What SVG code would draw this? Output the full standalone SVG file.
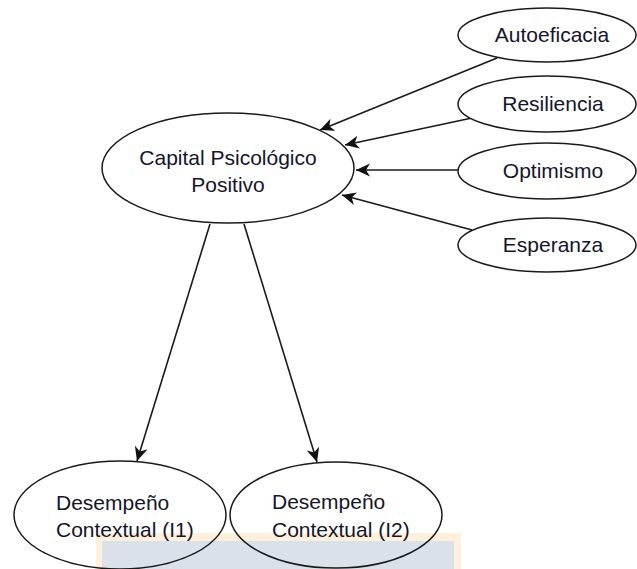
<svg xmlns="http://www.w3.org/2000/svg" width="637" height="569" viewBox="0 0 637 569">
  <style>
    .node ellipse { fill: #ffffff; stroke: #1a1a1a; stroke-width: 1.5; }
    .node.open ellipse { fill: none; }
    .node text { font-family: "Liberation Sans", Arial, sans-serif; font-size: 21px; fill: #15152a; }
    .mid { text-anchor: middle; }
    .edge { stroke: #1a1a1a; stroke-width: 1.6; fill: none; marker-end: url(#arrow); }
  </style>
  <defs>
    <marker id="arrow" markerUnits="userSpaceOnUse" markerWidth="16" markerHeight="14" refX="14" refY="6.5" orient="auto">
      <path d="M0,0 L14,6.5 L0,13 L4,6.5 Z" fill="#111111"/>
    </marker>
  </defs>

  <rect width="637" height="569" fill="#ffffff"/>

  <!-- light banner along the bottom edge -->
  <g id="banner">
    <rect x="96" y="533" width="365" height="36" fill="#fdf0dc"/>
    <rect x="102" y="541" width="352" height="28" fill="#dbe1e9"/>
  </g>

  <g id="connectors">
    <line class="edge" x1="497" y1="58" x2="320" y2="130"/>
    <line class="edge" x1="472" y1="118" x2="345" y2="145"/>
    <line class="edge" x1="458" y1="170" x2="356" y2="170"/>
    <line class="edge" x1="472" y1="230" x2="342" y2="195"/>
    <line class="edge" x1="210" y1="224" x2="137" y2="461"/>
    <line class="edge" x1="244" y1="224" x2="317" y2="462"/>
  </g>

  <g id="capital" class="node">
    <ellipse cx="228" cy="168" rx="126" ry="55"/>
    <text class="mid" x="228" y="165">Capital Psicológico</text>
    <text class="mid" x="228" y="192">Positivo</text>
  </g>

  <g id="autoeficacia" class="node">
    <ellipse cx="547" cy="35" rx="89" ry="27"/>
    <text class="mid" x="552" y="42">Autoeficacia</text>
  </g>

  <g id="resiliencia" class="node">
    <ellipse cx="547" cy="104" rx="89" ry="28"/>
    <text class="mid" x="553" y="111">Resiliencia</text>
  </g>

  <g id="optimismo" class="node">
    <ellipse cx="547" cy="171" rx="89" ry="28"/>
    <text class="mid" x="553" y="178">Optimismo</text>
  </g>

  <g id="esperanza" class="node">
    <ellipse cx="547" cy="245" rx="89" ry="27"/>
    <text class="mid" x="553" y="252">Esperanza</text>
  </g>

  <g id="desempeno-i1" class="node open">
    <ellipse cx="120" cy="515" rx="106" ry="54"/>
    <text x="56" y="510">Desempeño</text>
    <text x="56" y="537">Contextual (I1)</text>
  </g>

  <g id="desempeno-i2" class="node open">
    <ellipse cx="336" cy="515" rx="106" ry="53"/>
    <text x="272" y="509">Desempeño</text>
    <text x="272" y="537">Contextual (I2)</text>
  </g>
</svg>
